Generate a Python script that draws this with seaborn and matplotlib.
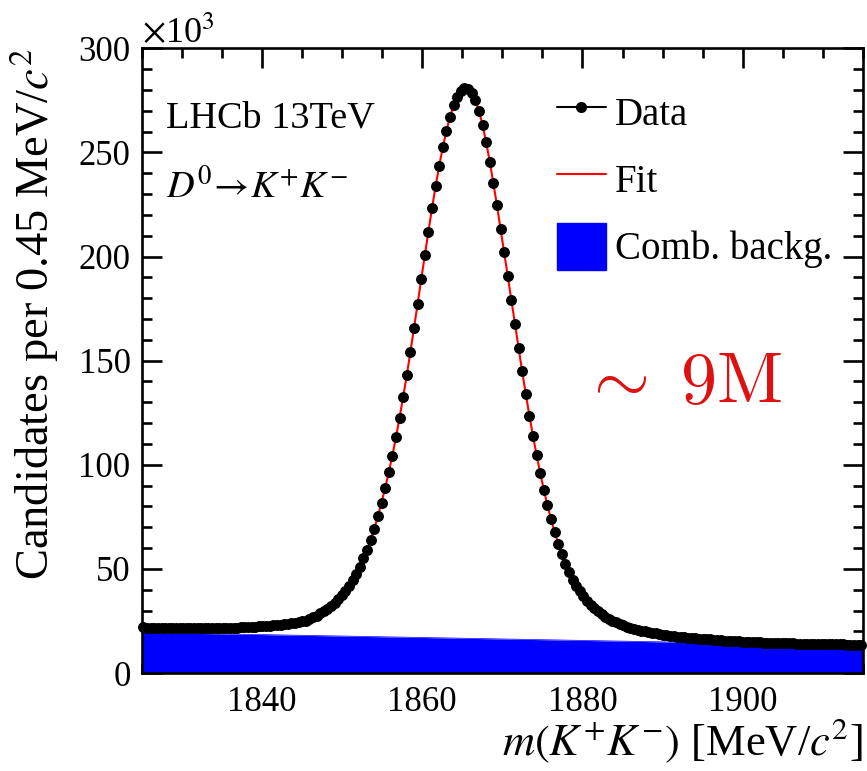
import numpy as np
import pandas as pd
import matplotlib
matplotlib.use("Agg")
import matplotlib.pyplot as plt
import seaborn as sns
from matplotlib.ticker import MultipleLocator
from matplotlib.lines import Line2D
from matplotlib.patches import Patch

# ---------------- data (units of 10^3 candidates per 0.45 MeV/c^2) ----------------
bin_low_edge = 1825.0
bin_width = 0.45
n_bins = 200

candidates = [
    21.9, 21.8, 21.8, 21.7, 21.7, 21.6, 21.6, 21.5, 21.5, 21.5,
    21.4, 21.4, 21.4, 21.4, 21.4, 21.4, 21.4, 21.5, 21.5, 21.5,
    21.6, 21.6, 21.7, 21.7, 21.8, 21.8, 21.8, 21.9, 22.0, 22.1,
    22.2, 22.3, 22.4, 22.5, 22.6, 22.7, 22.9, 23.0, 23.2, 23.4,
    23.6, 23.8, 24.1, 24.4, 24.8, 25.2, 25.9, 26.7, 27.6, 28.6,
    29.7, 30.9, 32.3, 33.8, 35.4, 37.3, 39.4, 41.8, 44.5, 47.6,
    51.1, 55.0, 59.3, 64.0, 69.3, 75.3, 81.8, 88.8, 96.3, 104.4,
    113.2, 122.6, 132.5, 143.0, 154.0, 165.5, 177.2, 189.0, 200.6, 212.0,
    223.2, 233.8, 243.6, 252.5, 260.4, 267.2, 272.6, 276.8, 279.6, 280.9,
    280.6, 278.6, 275.2, 270.0, 263.2, 255.0, 245.6, 235.4, 224.6, 213.4,
    202.0, 190.5, 179.0, 167.5, 156.0, 144.8, 134.0, 123.6, 113.8, 104.6,
    96.0, 88.0, 80.6, 73.8, 67.6, 62.0, 57.0, 52.5, 48.4, 44.7,
    41.8, 39.2, 36.8, 34.7, 32.8, 31.1, 29.6, 28.3, 27.1, 26.1,
    25.1, 24.3, 23.6, 22.9, 22.3, 21.8, 21.3, 20.8, 20.4, 20.0,
    19.6, 19.3, 19.0, 18.7, 18.4, 18.2, 17.9, 17.7, 17.5, 17.3,
    17.1, 17.0, 16.8, 16.7, 16.5, 16.4, 16.2, 16.1, 16.0, 15.8,
    15.7, 15.6, 15.5, 15.4, 15.3, 15.2, 15.1, 15.0, 14.9, 14.8,
    14.7, 14.7, 14.6, 14.5, 14.5, 14.4, 14.4, 14.3, 14.3, 14.2,
    14.2, 14.1, 14.1, 14.0, 14.0, 14.0, 13.9, 13.9, 13.9, 13.8,
    13.8, 13.8, 13.7, 13.7, 13.7, 13.6, 13.6, 13.6, 13.5, 13.5,
]
fit_curve = list(candidates)          # fit follows the data points
bkg_mass = [1825.0, 1915.0]
bkg_level = [19.5, 13.2]

x_ticks = [1840, 1860, 1880, 1900]
y_ticks = [0, 50, 100, 150, 200, 250, 300]
legend_labels = ["Data", "Fit", "Comb. backg."]

mass = bin_low_edge + bin_width * (np.arange(n_bins) + 0.5)
df = pd.DataFrame({"mass": mass, "cands": candidates, "fit": fit_curve})
bkg_df = pd.DataFrame({"mass": bkg_mass, "bkg": bkg_level})

# ---------------- style ----------------
sns.set_theme(style="ticks")
plt.rcParams['font.family'] = ['Liberation Serif', 'DejaVu Serif']
plt.rcParams['mathtext.fontset'] = 'stix'
plt.rcParams['axes.linewidth'] = 1.9
for key in ["text.color", "axes.labelcolor", "xtick.color", "ytick.color",
            "axes.edgecolor", "xtick.labelcolor", "ytick.labelcolor"]:
    plt.rcParams[key] = "black"

fig = plt.figure(figsize=(8.67, 7.71), dpi=100)
fig.patch.set_facecolor("white")
ax = fig.add_axes([0.1634, 0.1271, 0.8320, 0.8103])
ax.set_facecolor("white")

# background
sns.lineplot(data=bkg_df, x="mass", y="bkg", color="blue", lw=0.5, ax=ax, zorder=1)
ax.fill_between(bkg_df["mass"], 0, bkg_df["bkg"], color="blue", lw=0, zorder=1)
# fit
sns.lineplot(data=df, x="mass", y="fit", color="red", lw=1.5, ax=ax, zorder=2)
# data
sns.scatterplot(data=df, x="mass", y="cands", color="black", s=62,
                edgecolor="black", linewidth=0, ax=ax, zorder=3, clip_on=False)

ax.set_xlim(1825, 1915)
ax.set_ylim(0, 300)
ax.set_xticks(x_ticks)
ax.set_yticks(y_ticks)
ax.xaxis.set_minor_locator(MultipleLocator(5))
ax.yaxis.set_minor_locator(MultipleLocator(10))
ax.tick_params(which="both", direction="in", top=True, right=True, width=1.9,
               color="black")
ax.tick_params(which="major", length=14.5)
ax.tick_params(which="minor", length=7.5)
ax.tick_params(axis="x", which="major", labelsize=25, pad=9, labelcolor="black")
ax.tick_params(axis="y", which="major", labelsize=25, pad=8, labelcolor="black")

ax.set_ylabel(r"Candidates per 0.45 MeV/$c^2$", fontsize=33.5, loc="top", color="black")
ax.yaxis.set_label_coords(-0.112, 1.0)
ax.set_xlabel(r"$m(K^{+}K^{-})$ [MeV/$c^2$]", fontsize=32, loc="right", color="black")
ax.xaxis.set_label_coords(1.0, -0.07)

for s in ax.spines.values():
    s.set_linewidth(1.9)
    s.set_visible(True)
    s.set_color("black")

# texts
fig.text(141.7 / 867, 1 - 43 / 771, r"$\times$10$^{3}$", fontsize=26, va="baseline",
         ha="left", color="black")
fig.text(166 / 867, 1 - 128 / 771, "LHCb 13TeV", fontsize=27.5, va="baseline",
         ha="left", color="black")
fig.text(166 / 867, 1 - 198 / 771, r"$D^{0}\!\rightarrow\! K^{+}K^{-}$", fontsize=27.5,
         va="baseline", ha="left", color="black")
fig.text(681 / 867, 1 - 403 / 771, r"$\sim\;9\mathrm{M}$", fontsize=52, color="#dd1111",
         va="baseline", ha="center", math_fontfamily="cm")

# legend
h_data = Line2D([], [], color="black", marker="o", markersize=7, lw=1.5)
h_fit = Line2D([], [], color="red", lw=1.5)
h_bkg = Patch(facecolor="blue", edgecolor="blue")
ax.legend([h_data, h_fit, h_bkg], legend_labels, loc="upper left",
          bbox_to_anchor=(0.5757, 0.935), frameon=False, fontsize=28,
          handlelength=1.25, handleheight=1.5, labelspacing=0.5,
          handletextpad=0.25, borderpad=0, borderaxespad=0, labelcolor="black")

fig.savefig("out.png", dpi=100, facecolor="white")
